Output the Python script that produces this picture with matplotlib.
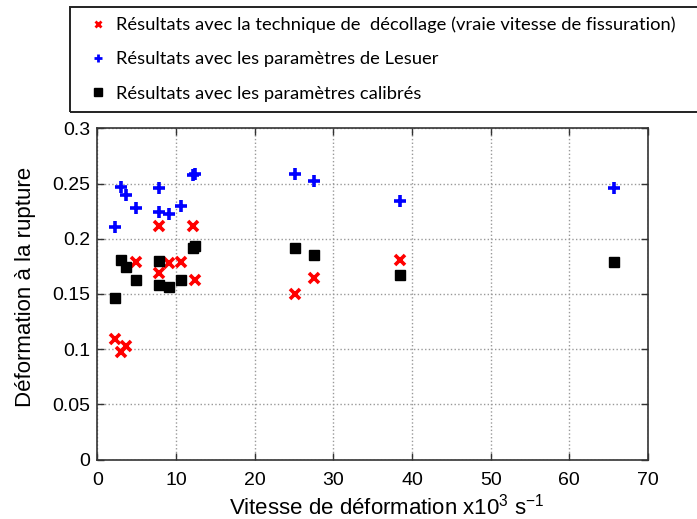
import numpy as np
import matplotlib
matplotlib.use("Agg")
import matplotlib.pyplot as plt
from matplotlib.lines import Line2D
from matplotlib.patches import Rectangle

plt.rcParams['mathtext.fontset'] = 'custom'
plt.rcParams['mathtext.rm'] = 'Liberation Sans'
plt.rcParams['mathtext.it'] = 'Liberation Sans'

# vitesse de deformation (x10^3 s^-1) et deformation a la rupture
x_decollage = [2.25, 3.0, 3.7, 4.9, 7.8, 7.8, 9.15, 10.6, 12.2, 12.4, 25.1, 27.5, 38.5]
y_decollage = [0.109, 0.097, 0.103, 0.179, 0.2115, 0.169, 0.178, 0.179, 0.2118, 0.1626, 0.150, 0.164, 0.181]

x_lesuer = [2.25, 3.0, 3.7, 4.9, 7.8, 7.8, 9.15, 10.6, 12.2, 12.4, 25.1, 27.5, 38.5, 65.7]
y_lesuer = [0.2106, 0.247, 0.2396, 0.228, 0.246, 0.224, 0.222, 0.2296, 0.258, 0.259, 0.2586, 0.252, 0.234, 0.246]

x_calib = [2.25, 3.0, 3.7, 4.9, 7.8, 7.8, 9.15, 10.6, 12.2, 12.4, 25.1, 27.5, 38.5, 65.7]
y_calib = [0.146, 0.1807, 0.174, 0.163, 0.180, 0.158, 0.156, 0.163, 0.192, 0.193, 0.192, 0.185, 0.167, 0.179]

labels = ["Résultats avec la technique de  décollage (vraie vitesse de fissuration)",
          "Résultats avec les paramètres de Lesuer",
          "Résultats avec les paramètres calibrés"]

W, H = 697, 519
fig = plt.figure(figsize=(W / 100, H / 100), dpi=100)
ax = fig.add_axes([97.3 / W, 1 - 459.5 / H, (648 - 97.3) / W, (459.5 - 128.3) / H])

ax.plot(x_decollage, y_decollage, 'x', color='#ff0000', ms=7, mew=2.6, ls='none')
ax.plot(x_lesuer, y_lesuer, '+', color='#0000ff', ms=8, mew=2.6, ls='none')
ax.plot(x_calib, y_calib, 's', color='black', ms=7.5, ls='none')

ax.set_xlim(0, 70)
ax.set_ylim(0, 0.3)
ax.set_xticks(np.arange(0, 71, 10))
ax.set_yticks(np.arange(0, 0.31, 0.05))
ax.set_yticklabels(["0", "0.05", "0.1", "0.15", "0.2", "0.25", "0.3"])
ax.grid(True, ls=':', color='#999999', lw=1)
ax.tick_params(direction='in', top=True, right=True, length=5, width=1,
               labelsize=14, color='#333333')
ax.tick_params(axis='x', pad=9)
ax.tick_params(axis='y', pad=5)
for s in ax.spines.values():
    s.set_color('#333333')
    s.set_linewidth(1.2)
for t in ax.get_xticklabels() + ax.get_yticklabels():
    t.set_fontfamily('Liberation Sans')

ax.set_xlabel("Vitesse de déformation x10$^{3}$ s$^{-1}$", fontsize=16,
              family='Liberation Sans')
ax.xaxis.set_label_coords(0.526, -0.104)
ax.set_ylabel("Déformation à la rupture", fontsize=16, family='Liberation Sans')
ax.yaxis.set_label_coords(-0.112, 0.521)

# cadre de la legende
fig.add_artist(Rectangle((70 / W, 1 - 112 / H), 640 / W, 105 / H,
                         transform=fig.transFigure, fill=False,
                         edgecolor='#222222', lw=1.4, zorder=0))

handles = [
    Line2D([], [], marker='x', color='#ff0000', ms=5, mew=2, ls='none'),
    Line2D([], [], marker='+', color='#0000ff', ms=6, mew=2, ls='none'),
    Line2D([], [], marker='s', color='black', ms=5.5, ls='none'),
]
leg = fig.legend(handles, labels, loc='upper left', bbox_to_anchor=(72 / W, 1.0),
                 frameon=False, prop={'family': 'Lato', 'size': 13.2},
                 handlelength=1.0, handletextpad=0.5, labelspacing=1.0)

fig.savefig("out.png", dpi=100)
